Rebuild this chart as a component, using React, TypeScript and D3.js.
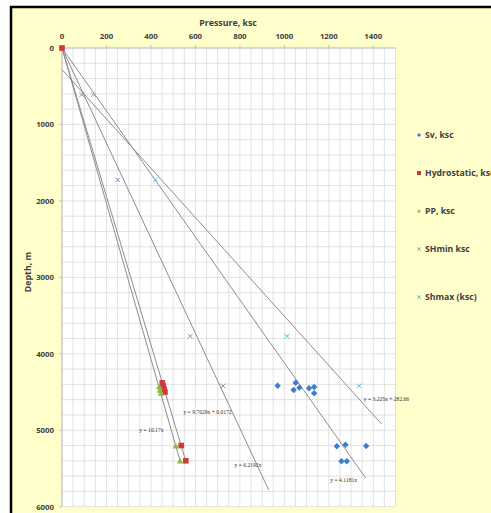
import React from "react";
import * as d3 from "d3";

// ---- data (pressure in ksc, depth in m) ----
const svP = [970, 1051, 1042, 1068, 1111, 1134, 1134, 1236, 1275, 1368, 1257, 1281];
const svD = [4417, 4378, 4474, 4443, 4451, 4434, 4517, 5210, 5189, 5206, 5406, 5406];
const hydroP = [0, 451, 455, 459, 463, 536, 557];
const hydroD = [0, 4380, 4420, 4460, 4500, 5200, 5400];
const ppP = [437, 440, 445, 512, 531];
const ppD = [4430, 4475, 4515, 5206, 5400];
const shminP = [89, 251, 577, 724];
const shminD = [610, 1725, 3770, 4420];
const shmaxP = [141, 420, 1012, 1337];
const shmaxD = [610, 1725, 3770, 4420];

const xTicks = [0, 200, 400, 600, 800, 1000, 1200, 1400];
const yTicks = [0, 1000, 2000, 3000, 4000, 5000, 6000];

// trendlines: depth = slope * P + intercept
const trendSlopes = [10.17, 9.7029, 6.2192, 4.1181, 3.225];
const trendIntercepts = [0, 0.0172, 0, 0, 282.66];
const trendEndP = [531, 557, 930, 1366, 1437];
const trendLabels = ["y = 10.17x", "y = 9.7029x + 0.0172", "y = 6.2192x", "y = 4.1181x", "y = 3.225x + 282.66"];
const trendLabelP = [348, 546, 776, 1207, 1357];
const trendLabelD = [5023, 4787, 5481, 5677, 4613];

const legendNames = ["Sv, ksc", "Hydrostatic, ksc", "PP, ksc", "SHmin ksc", "Shmax (ksc)"];

const W = 491, H = 513;
const x = d3.scaleLinear().domain([0, 1500]).range([62, 395.5]);
const y = d3.scaleLinear().domain([0, 6000]).range([48, 506.7]);

const C_BLUE = "#3C7DD4";
const C_RED = "#D0393B";
const C_GREEN = "#8DBA4A";
const C_PURPLE = "#9B7FC8";
const C_CYAN = "#4DC3DC";

function Diamond({ cx, cy, s = 3.2, fill }: any) {
  return <path d={`M${cx},${cy - s}L${cx + s},${cy}L${cx},${cy + s}L${cx - s},${cy}Z`} fill={fill} />;
}
function Square({ cx, cy, s = 2.8, fill }: any) {
  return <rect x={cx - s} y={cy - s} width={2 * s} height={2 * s} fill={fill} />;
}
function Tri({ cx, cy, s = 3.2, fill }: any) {
  return <path d={`M${cx},${cy - s}L${cx + s},${cy + s * 0.8}L${cx - s},${cy + s * 0.8}Z`} fill={fill} />;
}
function Cross({ cx, cy, s = 2.3, stroke }: any) {
  return (
    <path d={`M${cx - s},${cy - s}L${cx + s},${cy + s}M${cx - s},${cy + s}L${cx + s},${cy - s}`} stroke={stroke} strokeWidth={1} fill="none" />
  );
}

export default function App() {
  const xMinor = d3.range(0, 1500.1, 50);
  const yMinor = d3.range(0, 6000.1, 200);
  const font = "'Open Sans', 'Liberation Sans', sans-serif";
  const legendY = [135, 173, 211, 249, 297];
  return (
    <svg width={W} height={H} style={{ position: "absolute", left: 0, top: 0 }} fontFamily={font}>
      <rect x={0} y={0} width={W} height={H} fill="#fff" />
      <rect x={11} y={7} width={W + 20} height={H + 20} fill="#FFFFCC" stroke="#000" strokeWidth={2.5} />
      {/* plot area */}
      <rect x={x(0)} y={y(0)} width={x(1500) - x(0)} height={y(6000) - y(0)} fill="#fff" />
      {xMinor.map((v) => (
        <line key={"gx" + v} x1={x(v)} x2={x(v)} y1={y(0)} y2={y(6000)} stroke="#DADADA" strokeWidth={0.8} />
      ))}
      {yMinor.map((v) => (
        <line key={"gy" + v} x1={x(0)} x2={x(1500)} y1={y(v)} y2={y(v)} stroke="#DADADA" strokeWidth={0.8} />
      ))}
      {/* axes */}
      <line x1={x(0)} x2={x(1500)} y1={y(0)} y2={y(0)} stroke="#BFBFBF" strokeWidth={1} />
      <line x1={x(0)} x2={x(0)} y1={y(0)} y2={y(6000)} stroke="#BFBFBF" strokeWidth={1} />
      {xTicks.map((v) => (
        <g key={"xt" + v}>
          <line x1={x(v)} x2={x(v)} y1={y(0)} y2={y(0) - 3} stroke="#BFBFBF" />
          <text x={x(v)} y={y(0) - 9} textAnchor="middle" fontSize={7.8} fontWeight="bold" fill="#404040">
            {v}
          </text>
        </g>
      ))}
      {yTicks.map((v) => (
        <g key={"yt" + v}>
          <line x1={x(0) - 3} x2={x(0)} y1={y(v)} y2={y(v)} stroke="#BFBFBF" />
          <text x={x(0) - 8} y={y(v) + 2.8} textAnchor="end" fontSize={7.8} fontWeight="bold" fill="#404040">
            {v}
          </text>
        </g>
      ))}
      <text x={228} y={26} textAnchor="middle" fontSize={8.8} fontWeight="bold" fill="#404040">
        Pressure, ksc
      </text>
      <text transform={`translate(31,${272}) rotate(-90)`} textAnchor="middle" fontSize={8.8} fontWeight="bold" fill="#404040">
        Depth, m
      </text>
      {/* trendlines */}
      {trendSlopes.map((m, i) => (
        <line
          key={"tl" + i}
          x1={x(0)}
          y1={y(trendIntercepts[i])}
          x2={x(trendEndP[i])}
          y2={y(m * trendEndP[i] + trendIntercepts[i])}
          stroke="#8C8C8C"
          strokeWidth={1}
        />
      ))}
      {trendLabels.map((t, i) => (
        <text key={"lab" + i} x={x(trendLabelP[i])} y={y(trendLabelD[i])} fontSize={5.6} fill="#333" fontFamily="'Liberation Serif', serif">
          {t}
        </text>
      ))}
      {/* series */}
      {svP.map((p, i) => (
        <Diamond key={"sv" + i} cx={x(p)} cy={y(svD[i])} fill={C_BLUE} />
      ))}
      {hydroP.map((p, i) => (
        <Square key={"hy" + i} cx={x(p)} cy={y(hydroD[i])} fill={C_RED} />
      ))}
      {ppP.map((p, i) => (
        <Tri key={"pp" + i} cx={x(p)} cy={y(ppD[i])} fill={C_GREEN} />
      ))}
      {shminP.map((p, i) => (
        <Cross key={"mn" + i} cx={x(p)} cy={y(shminD[i])} stroke={C_PURPLE} />
      ))}
      {shmaxP.map((p, i) => (
        <Cross key={"mx" + i} cx={x(p)} cy={y(shmaxD[i])} stroke={C_CYAN} />
      ))}
      {/* legend */}
      {legendNames.map((n, i) => {
        const cy = legendY[i];
        const cx = 419;
        return (
          <g key={"lg" + i}>
            {i === 0 && <Diamond cx={cx} cy={cy} s={2} fill={C_BLUE} />}
            {i === 1 && <Square cx={cx} cy={cy} s={2} fill={C_RED} />}
            {i === 2 && <Tri cx={cx} cy={cy} s={2} fill={C_GREEN} />}
            {i === 3 && <Cross cx={cx} cy={cy} s={1.7} stroke="#A0A0A0" />}
            {i === 4 && <Cross cx={cx} cy={cy} s={1.7} stroke={C_CYAN} />}
            <text x={425} y={cy + 3} fontSize={8.7} fontWeight="bold" fill="#404040">
              {n}
            </text>
          </g>
        );
      })}
    </svg>
  );
}
